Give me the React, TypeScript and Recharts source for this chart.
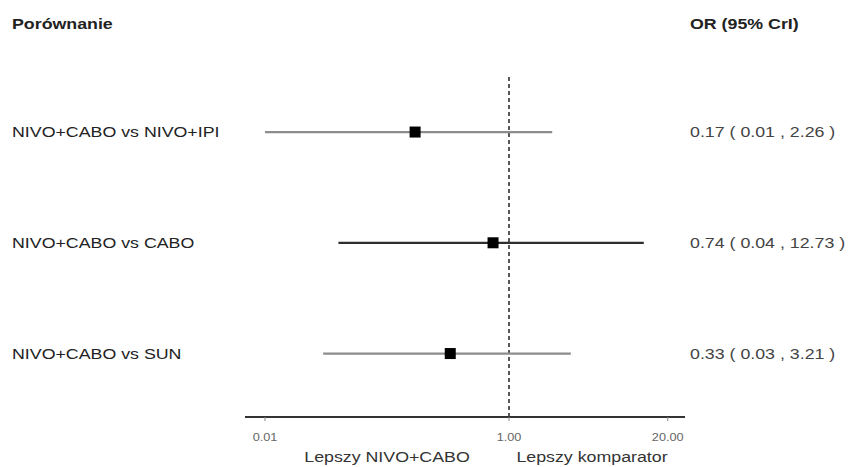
import { ReferenceLine, Scatter, ScatterChart, XAxis, YAxis } from "recharts";

const comparisons = ["NIVO+CABO vs NIVO+IPI", "NIVO+CABO vs CABO", "NIVO+CABO vs SUN"];
const orValues = [0.17, 0.74, 0.33];
const lowerCrI = [0.01, 0.04, 0.03];
const upperCrI = [2.26, 12.73, 3.21];
const rowPositions = [3, 2, 1];
const lineColors = ["#8c8c8c", "#2e2e2e", "#8c8c8c"];
const xTicks = [0.01, 1, 20];

// the reference text is horizontally stretched, so widen glyphs a bit
const SX = 1.27;
const FONT = "'Liberation Sans', Arial, sans-serif";

type STextProps = {
  x: number;
  y: number;
  size: number;
  fill: string;
  weight?: number | string;
  anchor?: "start" | "middle" | "end";
  children: string;
};

const SText = ({ x, y, size, fill, weight = "normal", anchor = "start", children }: STextProps) => (
  <g transform={`translate(${x},${y}) scale(${SX},1)`}>
    <text x={0} y={0} fontSize={size} fontWeight={weight} fill={fill} textAnchor={anchor} fontFamily={FONT}>
      {children}
    </text>
  </g>
);

const points = orValues.map((v, i) => ({ x: v, y: rowPositions[i] }));
const segments = orValues.map((_, i) => [
  { x: lowerCrI[i], y: rowPositions[i] },
  { x: upperCrI[i], y: rowPositions[i] },
]);

const RowTick = (props: any) => {
  const { y, payload } = props;
  const i = rowPositions.indexOf(payload.value);
  if (i < 0) return null;
  const label = `${orValues[i].toFixed(2)} ( ${lowerCrI[i].toFixed(2)} , ${upperCrI[i].toFixed(2)} )`;
  return (
    <g>
      <SText x={12} y={y + 5} size={14} fill="#222">
        {comparisons[i]}
      </SText>
      <SText x={690} y={y + 5} size={14} fill="#444">
        {label}
      </SText>
    </g>
  );
};

const XTick = (props: any) => {
  const { x, y, payload } = props;
  return (
    <g>
      <line x1={x} x2={x} y1={y} y2={y + 4} stroke="#888" strokeWidth={1} />
      <SText x={x} y={y + 24} size={10} fill="#666" anchor="middle">
        {Number(payload.value).toFixed(2)}
      </SText>
    </g>
  );
};

const Square = (props: any) => (
  <rect x={props.cx - 5.5} y={props.cy - 5.5} width={11} height={11} fill="#000" />
);

const App = () => {
  return (
    <div style={{ position: "absolute", left: 0, top: 0, width: 851, height: 467, background: "#fff" }}>
      <ScatterChart width={851} height={467} margin={{ top: 76, right: 166, bottom: 20, left: 0 }}>
        <XAxis
          type="number"
          dataKey="x"
          scale="log"
          domain={[0.00686, 27.7]}
          allowDataOverflow
          ticks={xTicks}
          height={30}
          tickSize={0}
          tickMargin={0}
          axisLine={{ stroke: "#333", strokeWidth: 2 }}
          tickLine={false}
          tick={<XTick />}
        />
        <YAxis
          type="number"
          dataKey="y"
          domain={[0.427, 3.506]}
          allowDataOverflow
          ticks={rowPositions}
          width={245}
          axisLine={false}
          tickLine={false}
          tick={<RowTick />}
        />
        <ReferenceLine x={1} stroke="#222" strokeWidth={1.5} strokeDasharray="4 3" />
        {segments.map((seg, i) => (
          <Scatter
            key={comparisons[i]}
            data={seg}
            line={{ stroke: lineColors[i], strokeWidth: 2.2 }}
            shape={() => <g />}
            isAnimationActive={false}
          />
        ))}
        <Scatter data={points} shape={<Square />} isAnimationActive={false} />
      </ScatterChart>
      <svg width={851} height={467} style={{ position: "absolute", left: 0, top: 0, pointerEvents: "none" }}>
        <SText x={12} y={29} size={14} fill="#222" weight="bold">
          Porównanie
        </SText>
        <SText x={690} y={29} size={14} fill="#222" weight="bold">
          OR (95% CrI)
        </SText>
        <SText x={387} y={462} size={14} fill="#333" anchor="middle">
          Lepszy NIVO+CABO
        </SText>
        <SText x={592} y={462} size={14} fill="#333" anchor="middle">
          Lepszy komparator
        </SText>
      </svg>
    </div>
  );
};

export default App;
